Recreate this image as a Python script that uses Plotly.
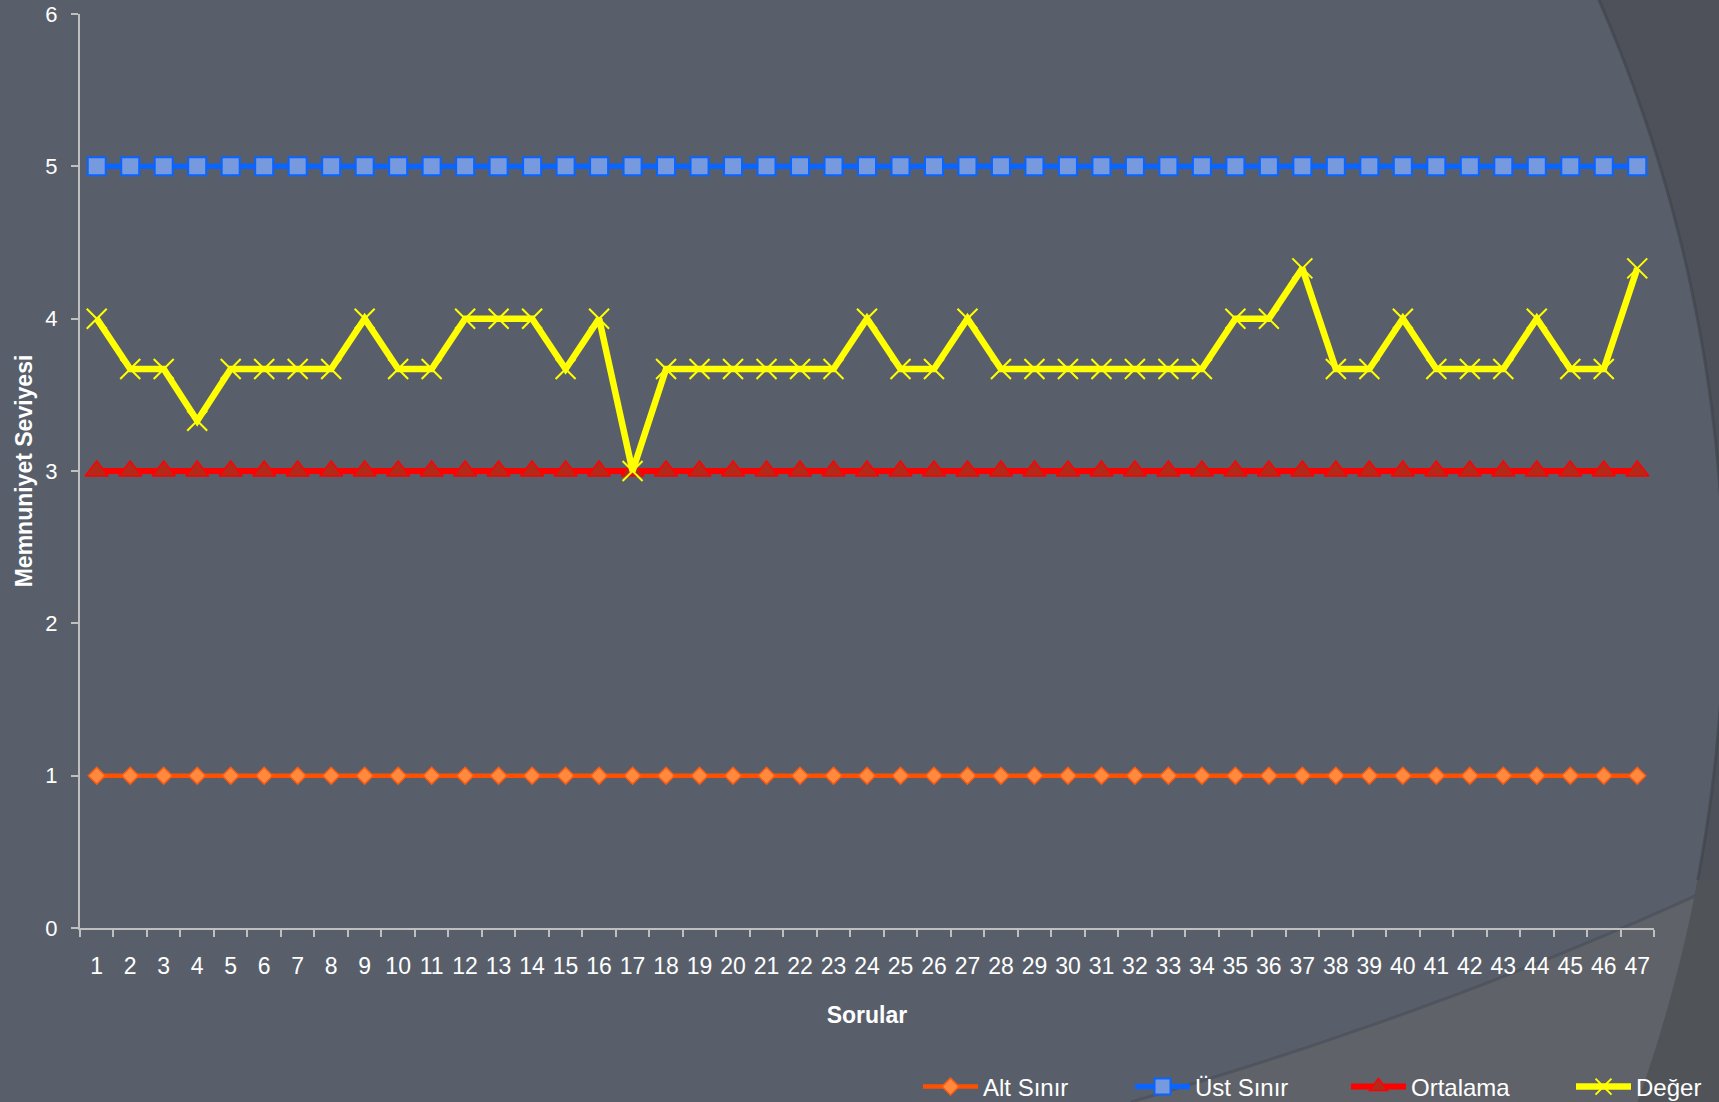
import math
import plotly.graph_objects as go

# ---------------- data ----------------
sorular = [str(i) for i in range(1, 48)]
alt_sinir = [1] * 47
ust_sinir = [5] * 47
ortalama = [3] * 47
deger = [4, 3.67, 3.67, 3.33, 3.67, 3.67, 3.67, 3.67, 4, 3.67,
         3.67, 4, 4, 4, 3.67, 4, 3, 3.67, 3.67, 3.67,
         3.67, 3.67, 3.67, 4, 3.67, 3.67, 4, 3.67, 3.67, 3.67,
         3.67, 3.67, 3.67, 3.67, 4, 4, 4.33, 3.67, 3.67, 4,
         3.67, 3.67, 3.67, 4, 3.67, 3.67, 4.33]
y_ticks = [0, 1, 2, 3, 4, 5, 6]

# ---------------- layout geometry (pixels) ----------------
W, H = 1719, 1102
L, R, T, B = 80, 1654, 14, 928   # plot area edges in pixels
PW, PH = R - L, B - T

def px(X, Y):
    return (X - L) / PW, (B - Y) / PH

def path_from(points, close=True):
    s = ""
    for i, (X, Y) in enumerate(points):
        x, y = px(X, Y)
        s += ("M" if i == 0 else "L") + f"{x:.5f},{y:.5f}"
    if close:
        s += "Z"
    return s

# big decorative circle (theme background)
CX, CY, RAD = 222, 600, 1502
def circle_pts(y0, y1, n=80):
    pts = []
    for k in range(n + 1):
        Y = y0 + (y1 - y0) * k / n
        X = CX + math.sqrt(max(RAD ** 2 - (Y - CY) ** 2, 0))
        pts.append((X, Y))
    return pts

arc_full = circle_pts(-5, H + 5)
outside_top = arc_full + [(W + 10, H + 5), (W + 10, -5)]

def bottom_curve(n=60):
    pts = []
    x0, y0 = 1131, 1102
    cx_, cy_ = 1450, 1010
    x1, y1 = 1730, 880
    for k in range(n + 1):
        t = k / n
        X = (1 - t) ** 2 * x0 + 2 * (1 - t) * t * cx_ + t ** 2 * x1
        Y = (1 - t) ** 2 * y0 + 2 * (1 - t) * t * cy_ + t ** 2 * y1
        pts.append((X, Y))
    return pts

bc = bottom_curve()
lighter_bottom = [(1060, H + 5)] + bc + [(W + 10, H + 5)]
bottom_right = circle_pts(880, H + 5) + [(W + 10, H + 5), (W + 10, 880)]

shapes = [
    dict(type="path", xref="paper", yref="paper", layer="below",
         path=path_from(outside_top), fillcolor="#4E5159", line=dict(width=0)),
    dict(type="path", xref="paper", yref="paper", layer="below",
         path=path_from(circle_pts(-5, 880), close=False),
         fillcolor="rgba(0,0,0,0)", line=dict(color="rgba(62,66,74,0.6)", width=3)),
    dict(type="path", xref="paper", yref="paper", layer="below",
         path=path_from(lighter_bottom), fillcolor="#5F6269", line=dict(width=0)),
    dict(type="path", xref="paper", yref="paper", layer="below",
         path=path_from(bc, close=False),
         fillcolor="rgba(0,0,0,0)", line=dict(color="rgba(72,76,86,0.6)", width=3)),
    dict(type="path", xref="paper", yref="paper", layer="below",
         path=path_from(bottom_right), fillcolor="#505357", line=dict(width=0)),
]

# ---------------- traces ----------------
fig = go.Figure()
fig.add_trace(go.Scatter(
    x=sorular, y=alt_sinir, name="Alt Sınır", mode="lines+markers",
    line=dict(color="#FF5000", width=4.5),
    marker=dict(symbol="diamond", size=13, color="#FF8A3D",
                line=dict(color="#FF5A10", width=1.5)),
    legend="legend"))
fig.add_trace(go.Scatter(
    x=sorular, y=ust_sinir, name="Üst Sınır", mode="lines+markers",
    line=dict(color="#0A64FF", width=5.5),
    marker=dict(symbol="square", size=18, color="#7799DD",
                line=dict(color="#0A64FF", width=2)),
    legend="legend2"))
fig.add_trace(go.Scatter(
    x=sorular, y=ortalama, name="Ortalama", mode="lines+markers",
    line=dict(color="#FF0000", width=6),
    marker=dict(symbol="triangle-up", size=20, color="#B22A1A",
                line=dict(color="#FF0000", width=1.5)),
    legend="legend3"))
fig.add_trace(go.Scatter(
    x=sorular, y=deger, name="Değer", mode="lines+markers",
    line=dict(color="#FFFF00", width=6.5),
    marker=dict(symbol="x-thin", size=20, color="#FFFF00",
                line=dict(color="#FFFF00", width=2)),
    legend="legend4"))

FONT = "Liberation Sans, Arial, sans-serif"
leg_font = dict(family=FONT, size=24, color="#FFFFFF")

def leg(Xpx):
    x, y = px(Xpx, 1087)
    return dict(x=x, y=y, xanchor="left", yanchor="middle", orientation="h",
                bgcolor="rgba(0,0,0,0)", font=leg_font, itemwidth=55,
                borderwidth=0)

fig.update_layout(
    template="none",
    width=W, height=H,
    margin=dict(l=L, r=W - R, t=T, b=H - B, autoexpand=False),
    paper_bgcolor="#585F6B",
    plot_bgcolor="rgba(0,0,0,0)",
    font=dict(family=FONT, color="#FFFFFF"),
    showlegend=True,
    legend=leg(918), legend2=leg(1130), legend3=leg(1346), legend4=leg(1571),
    shapes=shapes,
    xaxis=dict(
        type="category", range=[-0.5, 46.5], tickson="boundaries",
        ticks="outside", ticklen=7, tickwidth=2, tickcolor="#BFBFBF",
        showline=True, linecolor="#BFBFBF", linewidth=2,
        showgrid=False, zeroline=False, tickangle=0, automargin=False,
        tickfont=dict(family=FONT, size=23, color="#FFFFFF"),
        ticklabelstandoff=16,
        title=dict(text="<b>Sorular</b>", font=dict(family=FONT, size=23, color="#FFFFFF"),
                   standoff=29),
        fixedrange=True,
    ),
    yaxis=dict(
        range=[0, 6], tickvals=y_ticks, ticks="outside", ticklen=7, tickwidth=2,
        tickcolor="#BFBFBF", showline=True, linecolor="#BFBFBF", linewidth=2,
        showgrid=False, zeroline=False, ticklabeloverflow="allow", automargin=False,
        tickfont=dict(family=FONT, size=22, color="#FFFFFF"),
        ticklabelstandoff=9,
        title=dict(text="<b>Memnuniyet Seviyesi</b>",
                   font=dict(family=FONT, size=23, color="#FFFFFF"), standoff=6),
        fixedrange=True,
    ),
)

fig.write_html("out.html", config={"displayModeBar": False},
               post_script="document.body.style.margin='0';document.body.style.overflow='hidden';")
